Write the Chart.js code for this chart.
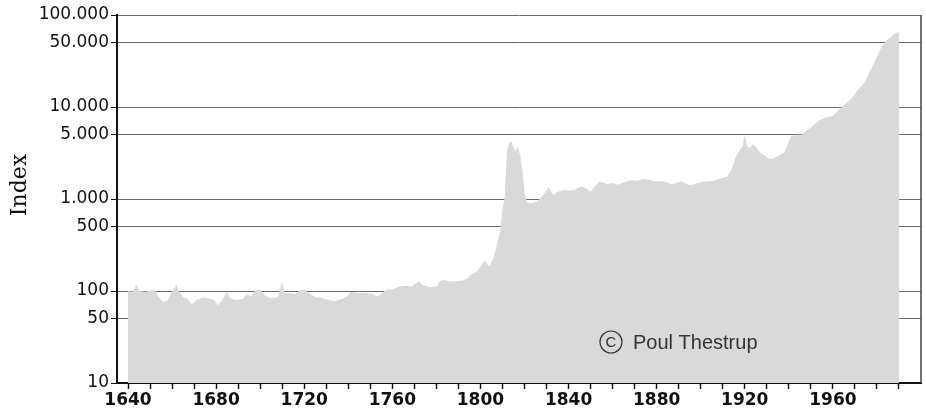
<!DOCTYPE html>
<html>
<head>
<meta charset="utf-8">
<script src="https://cdn.jsdelivr.net/npm/chart.js@4/dist/chart.umd.min.js"></script>
<style>
html,body{margin:0;padding:0;background:#fff;}
#c{display:block;}
</style>
</head>
<body>
<canvas id="c" width="926" height="412"></canvas>
<script>
const years = [1640,1642,1644,1645,1648,1651,1652,1654,1656,1658,1660,1662,1663,1665,1667,1669,1671,1674,1677,1679,1681,1683,1685,1686,1689,1692,1694,1696,1698,1700,1702,1705,1708,1710,1711,1714,1716,1718,1720,1722,1725,1728,1731,1734,1737,1740,1741,1744,1748,1751,1753,1755,1757,1760,1763,1766,1769,1772,1774,1777,1780,1782,1784,1786,1789,1792,1794,1796,1798,1800,1802,1804,1806,1807,1808,1809,1810,1811,1812,1813,1814,1815,1816,1817,1818,1819,1820,1821,1823,1825,1827,1829,1831,1833,1835,1838,1840,1843,1846,1848,1850,1852,1854,1856,1858,1860,1862,1865,1868,1871,1874,1877,1880,1883,1885,1887,1889,1891,1893,1895,1897,1900,1903,1906,1908,1910,1912,1914,1916,1918,1919,1920,1921,1922,1924,1925,1927,1930,1932,1934,1936,1938,1940,1941,1943,1946,1948,1950,1952,1954,1957,1960,1962,1964,1966,1969,1971,1974,1976,1978,1980,1982,1984,1986,1988,1990];
const indexValues = [100,98,118,100,98,102,104,85,76,80,98,118,100,86,82,72,80,85,83,80,70,82,100,84,80,82,92,88,102,104,90,83,86,126,94,95,92,102,104,95,86,84,80,78,82,90,98,95,96,93,87,92,103,104,112,114,112,127,115,110,112,130,132,127,128,130,138,152,160,185,215,185,228,290,360,450,780,1050,3300,4000,4300,3600,3300,3700,3000,2100,1200,920,900,920,1000,1150,1350,1100,1200,1250,1230,1260,1380,1300,1200,1380,1550,1500,1450,1500,1430,1500,1600,1580,1650,1600,1550,1560,1500,1450,1500,1560,1480,1420,1450,1520,1560,1580,1650,1700,1750,2100,2900,3500,3700,5000,3800,3600,3900,3700,3200,2850,2700,2850,3000,3250,4200,4800,5000,5000,5600,6000,6600,7200,7700,8000,9000,10000,11000,12800,15000,18000,22000,28000,35000,45000,52000,57000,62000,66000];
const yTickValues = [10,50,100,500,1000,5000,10000,50000,100000];
const xTickYears = [1640,1650,1660,1670,1680,1690,1700,1710,1720,1730,1740,1750,1760,1770,1780,1790,1800,1810,1820,1830,1840,1850,1860,1870,1880,1890,1900,1910,1920,1930,1940,1950,1960,1970,1980,1990];
const xLabelYears = [1640,1680,1720,1760,1800,1840,1880,1920,1960];
const yAxisTitle = 'Index';
const creditText = 'Poul Thestrup';

function fmt(v){ return String(v).replace(/\B(?=(\d{3})+(?!\d))/g,'.'); }

const extras = {
  id:'extras',
  afterDraw(chart){
    const ctx = chart.ctx, a = chart.chartArea;
    ctx.save();
    // right frame line
    ctx.strokeStyle = '#444'; ctx.lineWidth = 1.5;
    ctx.beginPath(); ctx.moveTo(a.right, a.top); ctx.lineTo(a.right, a.bottom); ctx.stroke();
    // axis title
    ctx.fillStyle = '#111';
    ctx.translate(20, 185); ctx.rotate(-Math.PI/2);
    ctx.font = '22px "DejaVu Serif"'; ctx.textAlign='center'; ctx.textBaseline='middle';
    ctx.fillText(yAxisTitle, 0, 0);
    ctx.restore();
    // credit
    ctx.save();
    ctx.strokeStyle = '#333'; ctx.lineWidth = 1.2;
    ctx.beginPath(); ctx.arc(611, 342, 11, 0, Math.PI*2); ctx.stroke();
    ctx.fillStyle = '#333'; ctx.font = '15px "Liberation Sans"'; ctx.textAlign='center'; ctx.textBaseline='middle';
    ctx.fillText('C', 611, 343);
    ctx.font = '20px "Liberation Sans"'; ctx.textAlign='left';
    ctx.fillText(creditText, 633, 343);
    ctx.restore();
  }
};

new Chart(document.getElementById('c'), {
  type:'line',
  data:{ datasets:[{
    data: years.map((y,i)=>({x:y, y:indexValues[i]})),
    fill:'start',
    backgroundColor:'#d9d9d9',
    borderWidth:0,
    pointRadius:0,
    tension:0
  }]},
  options:{
    responsive:false,
    animation:false,
    devicePixelRatio:1,
    layout:{padding:{left:0,right:5,top:15,bottom:0}},
    plugins:{legend:{display:false},tooltip:{enabled:false}},
    scales:{
      x:{
        type:'linear', min:1635, max:2000,
        afterBuildTicks(s){ s.ticks = xTickYears.map(v=>({value:v})); },
        afterFit(s){ s.height = 29; },
        ticks:{
          autoSkip:false, maxRotation:0, padding:1,
          color:'#111',
          font:{family:'DejaVu Sans', size:17, weight:'bold'},
          callback:(v)=> xLabelYears.includes(v) ? String(v) : ''
        },
        grid:{drawOnChartArea:false, drawTicks:true, tickLength:6, tickColor:'#111', tickWidth:1.5},
        border:{color:'#111', width:2}
      },
      y:{
        type:'logarithmic', min:10, max:100000,
        z:1,
        afterBuildTicks(s){ s.ticks = yTickValues.map(v=>({value:v})); },
        afterFit(s){ s.width = 117; },
        ticks:{
          autoSkip:false, padding:2, color:'#111',
          font:{family:'DejaVu Sans', size:17},
          callback:(v)=> fmt(v)
        },
        grid:{color:'#6a6a6a', lineWidth:1, tickLength:6, tickColor:'#111'},
        border:{color:'#111', width:2}
      }
    }
  },
  plugins:[extras]
});
</script>
</body>
</html>
